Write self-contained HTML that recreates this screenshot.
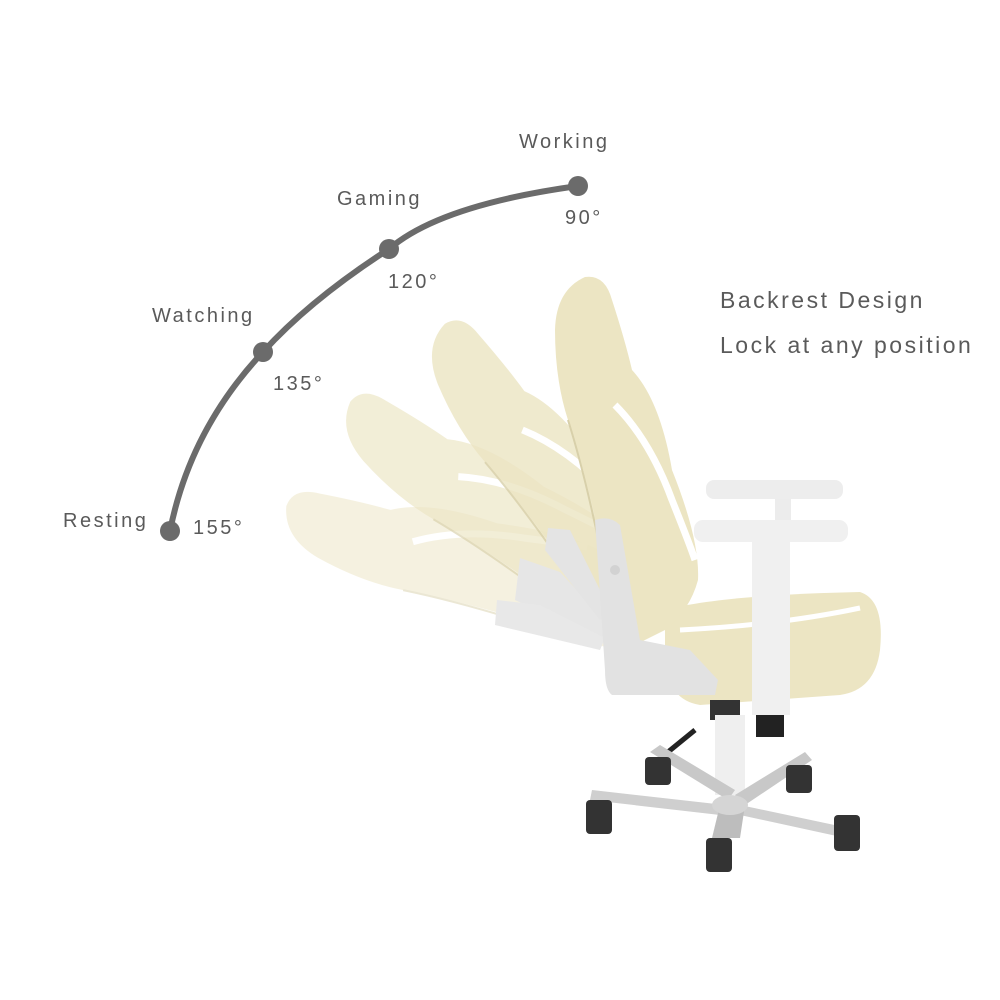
<!DOCTYPE html>
<html><head><meta charset="utf-8"><style>
html,body{margin:0;padding:0;background:#fff}
svg{display:block}
text{font-family:"Liberation Sans",sans-serif;fill:#5a5a5a;letter-spacing:2.5px}
</style></head><body>
<svg width="1000" height="1000" viewBox="0 0 1000 1000" xmlns="http://www.w3.org/2000/svg">
<path d="M578,186 Q440,205 389,249 Q310,300 263,352 Q190,430 170,531" fill="none" stroke="#6b6b6b" stroke-width="6" stroke-linecap="round"/>
<circle cx="578" cy="186" r="10" fill="#6b6b6b"/>
<circle cx="389" cy="249" r="10" fill="#6b6b6b"/>
<circle cx="263" cy="352" r="10" fill="#6b6b6b"/>
<circle cx="170" cy="531" r="10" fill="#6b6b6b"/>
<text x="519" y="148" font-size="20">Working</text>
<text x="565" y="224" font-size="20">90°</text>
<text x="337" y="205" font-size="20">Gaming</text>
<text x="388" y="288" font-size="20">120°</text>
<text x="152" y="322" font-size="20">Watching</text>
<text x="273" y="390" font-size="20">135°</text>
<text x="63" y="527" font-size="20">Resting</text>
<text x="193" y="534" font-size="20">155°</text>
<text x="720" y="308" font-size="23" letter-spacing="3.3">Backrest Design</text>
<text x="720" y="353" font-size="23" letter-spacing="3.3">Lock at any position</text>

<defs>
<g id="back">
<path d="M555,330 Q556,290 585,277 Q605,274 612,300 Q625,340 632,370 Q660,400 672,470 Q700,540 698,580 Q690,610 665,630 L625,650 Q612,620 605,560 Q585,470 568,420 Q555,380 555,330Z" fill="#ece5c3"/>
<path d="M615,405 Q650,440 672,500 Q690,545 695,560" fill="none" stroke="#fff" stroke-width="7"/>
<path d="M568,420 Q590,490 610,600" fill="none" stroke="#d8d0aa" stroke-width="2"/>
</g>
</defs>
<g opacity="0.5"><use href="#back" transform="rotate(-61 630 645)"/></g>
<g opacity="0.65"><use href="#back" transform="rotate(-42 630 645)"/></g>
<g opacity="0.8"><use href="#back" transform="rotate(-23 630 645)"/></g>
<path d="M520,558 L560,572 L612,628 L600,640 L515,600Z" fill="#e6e6e6"/>
<path d="M497,600 L540,605 L605,638 L600,650 L495,625Z" fill="#e8e8e8"/>
<path d="M548,528 L570,530 L610,610 L600,620 L545,550Z" fill="#e4e4e4"/>
<path d="M665,610 Q720,595 860,592 Q885,600 880,650 Q875,690 840,695 L700,705 Q668,700 665,660Z" fill="#ece5c3"/>
<path d="M680,630 Q780,625 860,608" fill="none" stroke="#fff" stroke-width="5"/>
<use href="#back"/>
<path d="M595,520 Q610,515 620,525 L640,640 L690,650 L718,680 L715,695 L612,695 Q605,690 605,670Z" fill="#e2e2e2"/>
<circle cx="615" cy="570" r="5" fill="#d2d2d2"/>
<rect x="710" y="700" width="30" height="20" fill="#333"/>
<path d="M695,730 L668,752" stroke="#222" stroke-width="5"/>
<rect x="715" y="715" width="30" height="80" fill="#efefef"/>
<path d="M728,800 L650,752 L660,745 L735,790Z" fill="#c8c8c8"/>
<path d="M735,795 L805,752 L812,760 L745,805Z" fill="#c8c8c8"/>
<path d="M725,805 L592,790 L590,800 L720,815Z" fill="#cfcfcf"/>
<path d="M740,805 L858,830 L855,840 L740,815Z" fill="#cfcfcf"/>
<path d="M720,805 L712,838 L740,838 L745,805Z" fill="#bdbdbd"/>
<ellipse cx="730" cy="805" rx="18" ry="10" fill="#d5d5d5"/>
<g fill="#333">
<rect x="645" y="757" width="26" height="28" rx="4"/>
<rect x="786" y="765" width="26" height="28" rx="4"/>
<rect x="586" y="800" width="26" height="34" rx="4"/>
<rect x="834" y="815" width="26" height="36" rx="4"/>
<rect x="706" y="838" width="26" height="34" rx="4"/>
</g>
<rect x="752" y="535" width="38" height="180" fill="#f0f0f0"/>
<rect x="756" y="715" width="28" height="22" fill="#222"/>
<rect x="775" y="495" width="16" height="30" fill="#ececec"/>
<rect x="706" y="480" width="137" height="19" rx="8" fill="#ededed"/>
<rect x="694" y="520" width="154" height="22" rx="9" fill="#f0f0f0"/>
</svg>
</body></html>
